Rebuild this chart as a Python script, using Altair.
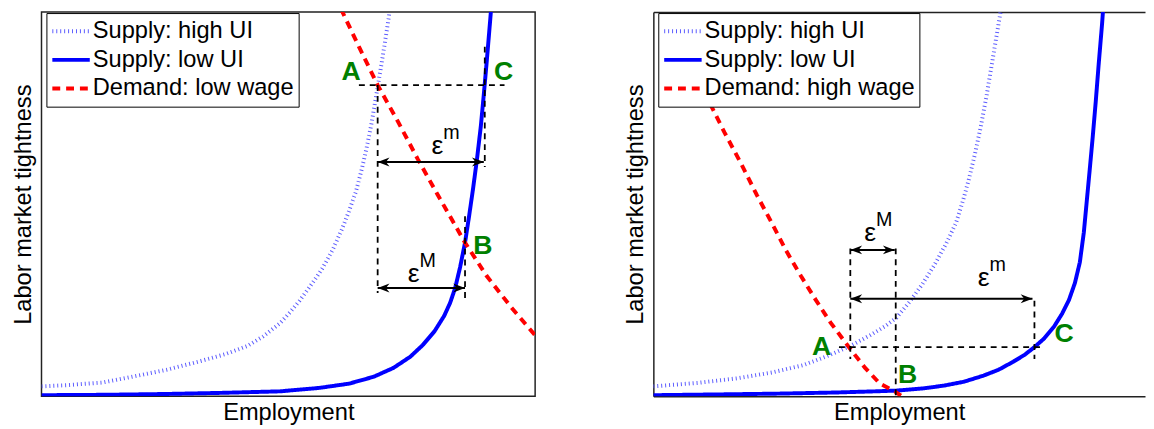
import altair as alt
import pandas as pd

FONT = "Liberation Sans"
GREEN = "#008000"
FRAME = "#222222"

SUPPLY_HIGH = "Supply: high UI"
SUPPLY_LOW = "Supply: low UI"
DEMAND_LOW = "Demand: low wage"
DEMAND_HIGH = "Demand: high wage"

# ---------------- left panel: low wage ----------------
L_high_ui_x = [0.000, 0.050, 0.124, 0.184, 0.253, 0.317, 0.373, 0.417, 0.449, 0.483, 0.503, 0.523, 0.549,
               0.569, 0.589, 0.609, 0.623, 0.637, 0.649, 0.659, 0.669, 0.679, 0.687, 0.695, 0.703, 0.709]
L_high_ui_y = [0.026, 0.029, 0.036, 0.051, 0.069, 0.090, 0.110, 0.131, 0.156, 0.190, 0.218, 0.249, 0.295,
               0.333, 0.379, 0.436, 0.482, 0.533, 0.592, 0.649, 0.713, 0.790, 0.851, 0.915, 0.982, 1.033]
L_low_ui_x = [0.000, 0.124, 0.244, 0.363, 0.483, 0.563, 0.623, 0.673, 0.713, 0.747, 0.772, 0.796, 0.816,
              0.828, 0.838, 0.848, 0.858, 0.866, 0.874, 0.882, 0.890, 0.896, 0.902, 0.908, 0.912, 0.914]
L_low_ui_y = [0.003, 0.004, 0.006, 0.009, 0.013, 0.022, 0.033, 0.051, 0.074, 0.103, 0.133, 0.169, 0.210,
              0.244, 0.282, 0.336, 0.400, 0.467, 0.538, 0.615, 0.703, 0.785, 0.872, 0.964, 1.026, 1.056]
L_demand_x = [0.595, 0.605, 0.643, 0.681, 0.723, 0.762, 0.802, 0.858, 0.902, 0.952, 1.002]
L_demand_y = [1.041, 1.013, 0.910, 0.810, 0.713, 0.618, 0.526, 0.400, 0.313, 0.231, 0.156]

L_guide_x1 = [0.643, 0.681, 0.898, 0.858]
L_guide_y1 = [0.810, 0.810, 0.910, 0.469]
L_guide_x2 = [0.938, 0.681, 0.898, 0.858]
L_guide_y2 = [0.810, 0.269, 0.597, 0.254]

L_arrow_x1 = [0.681, 0.681]
L_arrow_x2 = [0.896, 0.858]
L_arrow_y = [0.610, 0.282]

L_letters = ["A", "B", "C"]
L_letter_x = [0.627, 0.894, 0.936]
L_letter_y = [0.844, 0.392, 0.844]

L_eps_sup = ["m", "M"]
L_eps_x = [0.802, 0.754]
L_eps_y = [0.651, 0.318]

# ---------------- right panel: high wage ----------------
R_high_ui_x = [0.000, 0.090, 0.170, 0.240, 0.303, 0.349, 0.399, 0.439, 0.469, 0.493, 0.519, 0.545,
               0.569, 0.593, 0.613, 0.627, 0.639, 0.651, 0.663, 0.675, 0.685, 0.695, 0.705, 0.709]
R_high_ui_y = [0.026, 0.035, 0.047, 0.062, 0.081, 0.103, 0.131, 0.159, 0.182, 0.205, 0.246, 0.292,
               0.341, 0.397, 0.451, 0.508, 0.564, 0.628, 0.700, 0.782, 0.859, 0.936, 1.013, 1.044]
R_low_ui_x = [0.000, 0.130, 0.250, 0.369, 0.449, 0.493, 0.549, 0.589, 0.629, 0.669, 0.699, 0.729, 0.752, 0.772,
              0.792, 0.812, 0.828, 0.842, 0.854, 0.864, 0.872, 0.878, 0.884, 0.890, 0.896, 0.902, 0.909, 0.913]
R_low_ui_y = [0.003, 0.005, 0.007, 0.010, 0.013, 0.015, 0.021, 0.028, 0.038, 0.054, 0.069, 0.090, 0.108, 0.128,
              0.151, 0.182, 0.215, 0.251, 0.295, 0.349, 0.426, 0.508, 0.590, 0.674, 0.764, 0.862, 0.969, 1.041]
R_demand_x = [0.020, 0.070, 0.114, 0.144, 0.176, 0.210, 0.240, 0.269, 0.299, 0.329, 0.359, 0.399, 0.429,
              0.459, 0.489, 0.509]
R_demand_y = [1.021, 0.877, 0.764, 0.687, 0.610, 0.523, 0.451, 0.379, 0.313, 0.251, 0.192, 0.123, 0.074,
              0.033, 0.013, -0.005]

R_guide_x1 = [0.376, 0.399, 0.491, 0.772]
R_guide_y1 = [0.128, 0.385, 0.385, 0.249]
R_guide_x2 = [0.788, 0.399, 0.491, 0.772]
R_guide_y2 = [0.128, 0.097, 0.000, 0.097]

R_arrow_x1 = [0.399, 0.399]
R_arrow_x2 = [0.489, 0.768]
R_arrow_y = [0.381, 0.254]

R_letters = ["A", "B", "C"]
R_letter_x = [0.341, 0.515, 0.832]
R_letter_y = [0.128, 0.054, 0.162]

R_eps_sup = ["M", "m"]
R_eps_x = [0.439, 0.669]
R_eps_y = [0.426, 0.307]

CURVE_COLORS = ["#5c5cff", "#0000ff", "#ff0000"]
CURVE_DASHES = [[1, 3], [1, 0], [8, 6]]
HEAD_PATHS = ["M0,0L2,-0.75L1.4,0L2,0.75Z", "M0,0L-2,-0.75L-1.4,0L-2,0.75Z"]


def curves_frame(series):
    rows = []
    for name, xs, ys in series:
        for i, (x, y) in enumerate(zip(xs, ys)):
            rows.append({"series": name, "x": x, "y": y, "i": i})
    return pd.DataFrame(rows)


def panel(series, demand_label, gx1, gy1, gx2, gy2, ax1, ax2, ay,
          letters, lx, ly, sups, ex, ey, xmax, width, open_right):
    labels = [SUPPLY_HIGH, SUPPLY_LOW, demand_label]
    xs = alt.Scale(domain=[0, xmax], nice=False, zero=False)
    ys = alt.Scale(domain=[0, 1], nice=False, zero=False)
    title_style = dict(titleFontSize=24, titleFontWeight="normal", titleColor="black", titleFont=FONT)
    xax = alt.Axis(title="Employment", labels=False, ticks=False, grid=False, titlePadding=5,
                   domain=open_right, domainColor=FRAME, domainWidth=1.5, **title_style)
    xax_top = alt.Axis(orient="top", title="", labels=False, ticks=False, grid=False,
                       domain=True, domainColor=FRAME, domainWidth=1.5)
    yax = alt.Axis(title="Labor market tightness", labels=False, ticks=False, grid=False, titlePadding=6,
                   domain=open_right, domainColor=FRAME, domainWidth=1.5, **title_style)

    def X(field, role="plain"):
        if role == "main":
            return alt.X(field, scale=xs, axis=xax, title="Employment")
        if role == "top" and open_right:
            return alt.X(field, scale=xs, axis=xax_top, title="")
        if open_right:
            return alt.X(field, scale=xs, axis=None)
        return alt.X(field, scale=xs, axis=xax, title="Employment")

    def Y(field):
        return alt.Y(field, scale=ys, axis=yax, title="Labor market tightness")

    legend = alt.Legend(title=None, orient="none", legendX=5, legendY=1, direction="vertical",
                        fillColor="white", strokeColor="black", padding=4,
                        labelFont=FONT, labelFontSize=24, labelColor="black", labelOffset=1,
                        labelLimit=400, symbolType="stroke", symbolSize=1444, symbolStrokeWidth=4,
                        clipHeight=29, rowPadding=0)

    curves = alt.Chart(curves_frame(series)).mark_line(clip=True, strokeWidth=4).encode(
        x=X("x:Q", "main"),
        y=Y("y:Q"),
        color=alt.Color("series:N", scale=alt.Scale(domain=labels, range=CURVE_COLORS), legend=legend),
        strokeDash=alt.StrokeDash("series:N", scale=alt.Scale(domain=labels, range=CURVE_DASHES),
                                  legend=legend),
        order=alt.Order("i:Q"),
    )

    guides_df = pd.DataFrame({"x1": gx1, "y1": gy1, "x2": gx2, "y2": gy2})
    guides = alt.Chart(guides_df).mark_rule(color="black", strokeWidth=1.8, strokeDash=[6, 5]).encode(
        x=X("x1:Q", "top"), y=Y("y1:Q"), x2="x2:Q", y2="y2:Q",
    )

    arrows_df = pd.DataFrame({"x1": ax1, "x2": ax2, "y": ay})
    shafts = alt.Chart(arrows_df).mark_rule(color="black", strokeWidth=2).encode(
        x=X("x1:Q"), x2="x2:Q", y=Y("y:Q"),
    )
    heads_df = pd.DataFrame({
        "x": list(ax1) + list(ax2),
        "y": list(ay) + list(ay),
        "dir": ["left"] * len(ax1) + ["right"] * len(ax2),
    })
    heads = alt.Chart(heads_df).mark_point(filled=True, color="black", size=144, opacity=1,
                                           strokeWidth=0).encode(
        x=X("x:Q"), y=Y("y:Q"),
        shape=alt.Shape("dir:N", scale=alt.Scale(domain=["left", "right"], range=HEAD_PATHS), legend=None),
    )

    letters_df = pd.DataFrame({"t": letters, "x": lx, "y": ly})
    letter_text = alt.Chart(letters_df).mark_text(font=FONT, fontSize=27, fontWeight="bold", color=GREEN,
                                                  align="center", baseline="middle").encode(
        x=X("x:Q"), y=Y("y:Q"), text="t:N",
    )

    eps_df = pd.DataFrame({"sup": sups, "x": ex, "y": ey, "eps": ["ε"] * len(sups)})
    eps_text = alt.Chart(eps_df).mark_text(font=FONT, fontSize=27, color="black", align="center",
                                           baseline="middle").encode(
        x=X("x:Q"), y=Y("y:Q"), text="eps:N",
    )
    sup_text = alt.Chart(eps_df).mark_text(font=FONT, fontSize=20, color="black", align="left",
                                           baseline="middle", dx=6, dy=-13).encode(
        x=X("x:Q"), y=Y("y:Q"), text="sup:N",
    )

    layered = alt.layer(curves, guides, shafts, heads, letter_text, eps_text, sup_text).properties(
        width=width, height=390)
    if open_right:
        layered = layered.resolve_axis(x="independent").properties(
            view=alt.ViewBackground(stroke="transparent"))
    return layered


left = panel(
    [(SUPPLY_HIGH, L_high_ui_x, L_high_ui_y), (SUPPLY_LOW, L_low_ui_x, L_low_ui_y),
     (DEMAND_LOW, L_demand_x, L_demand_y)],
    DEMAND_LOW, L_guide_x1, L_guide_y1, L_guide_x2, L_guide_y2,
    L_arrow_x1, L_arrow_x2, L_arrow_y, L_letters, L_letter_x, L_letter_y,
    L_eps_sup, L_eps_x, L_eps_y, 1.0, 501, False)

right = panel(
    [(SUPPLY_HIGH, R_high_ui_x, R_high_ui_y), (SUPPLY_LOW, R_low_ui_x, R_low_ui_y),
     (DEMAND_HIGH, R_demand_x, R_demand_y)],
    DEMAND_HIGH, R_guide_x1, R_guide_y1, R_guide_x2, R_guide_y2,
    R_arrow_x1, R_arrow_x2, R_arrow_y, R_letters, R_letter_x, R_letter_y,
    R_eps_sup, R_eps_x, R_eps_y, 499 / 501, 499, True)

chart = alt.hconcat(left, right, spacing=88).resolve_scale(
    color="independent", strokeDash="independent", shape="independent"
).properties(
    padding={"left": 3, "top": 0, "right": 0, "bottom": 0}
).configure(font=FONT).configure_view(stroke=FRAME, strokeWidth=1.5)

chart.save("out.html", embed_options={"renderer": "svg", "actions": False})
